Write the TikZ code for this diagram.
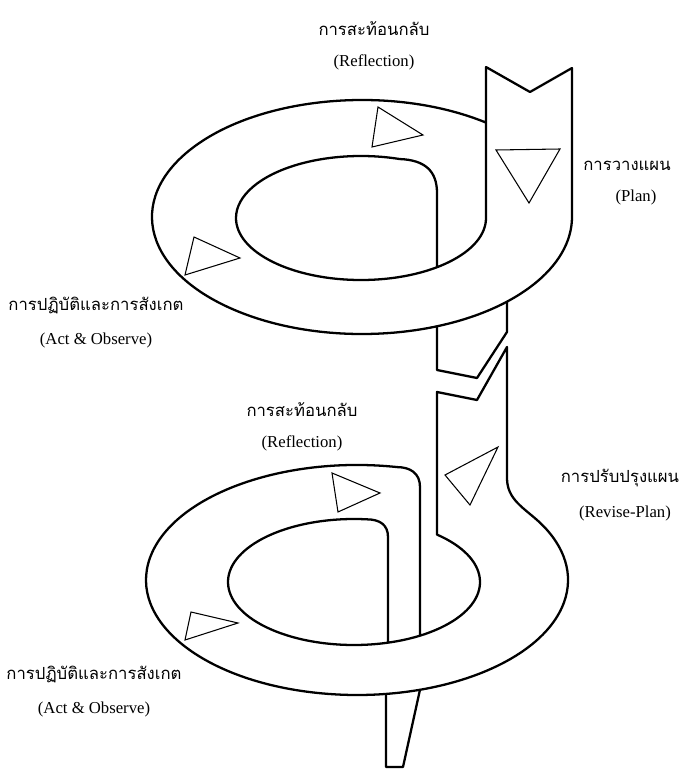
\documentclass[tikz,border=0pt]{standalone}
\usepackage{fontspec}
\setmainfont{Liberation Serif}
\newfontfamily\thaifont[Script=Thai]{Loma}
\usetikzlibrary{positioning}

\begin{document}
\begin{tikzpicture}[
			x=0.02cm, y=0.02cm,
			node distance=3mm,
			ribbon/.style={line width=1.3pt, line join=round},
			flowtri/.style={draw, line width=0.6pt, line join=miter},
			thlabel/.style={font=\thaifont\fontsize{9.5}{11}\selectfont, inner sep=1pt},
			enlabel/.style={font=\fontsize{9.5}{11}\selectfont, inner sep=1pt}
			]
			
			\useasboundingbox (0,0) rectangle (682,769);
			
			% ellipse centres of the two loops
			\coordinate (uo) at (362,552);
			\coordinate (ui) at (361,551);
			\coordinate (lo) at (357,189);
			\coordinate (li) at (354,187);
			
			% upper loop with the plan band
			\draw[ribbon] (uo) ++(54:210 and 117)
			arc[start angle=54, end angle=360, x radius=210, y radius=117]
			-- (572,701) -- (530,677) -- (486,702) -- (486,551)
			arc[start angle=0, end angle=-288, x radius=125, y radius=62]
			.. controls (425,609) and (437,598) .. (437,576) -- (437,502);
			
			% strip leaving the upper loop
			\draw[ribbon] (437,442.7) -- (437,399) -- (477,391) -- (507,437) -- (507,467.4);
			
			% lower loop with the revise band
			\draw[ribbon] (420,133.3) -- (420,282)
			.. controls (420,296) and (410,301.8) .. (397.3,301.9)
			arc[start angle=79, end angle=390, x radius=211, y radius=115]
			to[out=137, in=-90] (507,291)
			-- (507,422) -- (477,369) -- (437,377) -- (437,234.4)
			arc[start angle=48.8, end angle=-276, x radius=126, y radius=63]
			.. controls (380,249.5) and (388,244) .. (388,232) -- (388,126.3);
			
			% tail
			\draw[ribbon] (386,75.1) -- (386,2) -- (403,2) -- (420,79.3);
			
			% direction triangles
			\draw[flowtri] (378,662) -- (372,622) -- (423,634) -- cycle;
			\draw[flowtri] (194,532) -- (185,494) -- (240,511) -- cycle;
			\draw[flowtri] (496,619) -- (560,620) -- (529,566) -- cycle;
			\draw[flowtri] (332,296) -- (338,257) -- (380,276) -- cycle;
			\draw[flowtri] (498,322) -- (445,294) -- (470,264) -- cycle;
			\draw[flowtri] (191,157) -- (185,129) -- (238,146) -- cycle;
			
			% labels
			\node[thlabel] (reflth1) at (374,740) {การสะท้อนกลับ};
			\node[enlabel, below=of reflth1] (reflen1) {(Reflection)};
			
			\node[thlabel] (planth) at (627,603) {การวางแผน};
			\node[enlabel, below=of planth, xshift=1.8mm] (planen) {(Plan)};
			
			\node[thlabel] (actth1) at (96,464) {การปฏิบัติและการสังเกต};
			\node[enlabel, below=of actth1] (acten1) {(Act \& Observe)};
			
			\node[thlabel] (reflth2) at (302,359) {การสะท้อนกลับ};
			\node[enlabel, below=of reflth2] (reflen2) {(Reflection)};
			
			\node[thlabel] (reviseth) at (620,291) {การปรับปรุงแผน};
			\node[enlabel, below=of reviseth, xshift=1mm] (reviseen) {(Revise-Plan)};
			
			\node[thlabel] (actth2) at (94,95) {การปฏิบัติและการสังเกต};
			\node[enlabel, below=of actth2] (acten2) {(Act \& Observe)};
			
		\end{tikzpicture}
\end{document}
